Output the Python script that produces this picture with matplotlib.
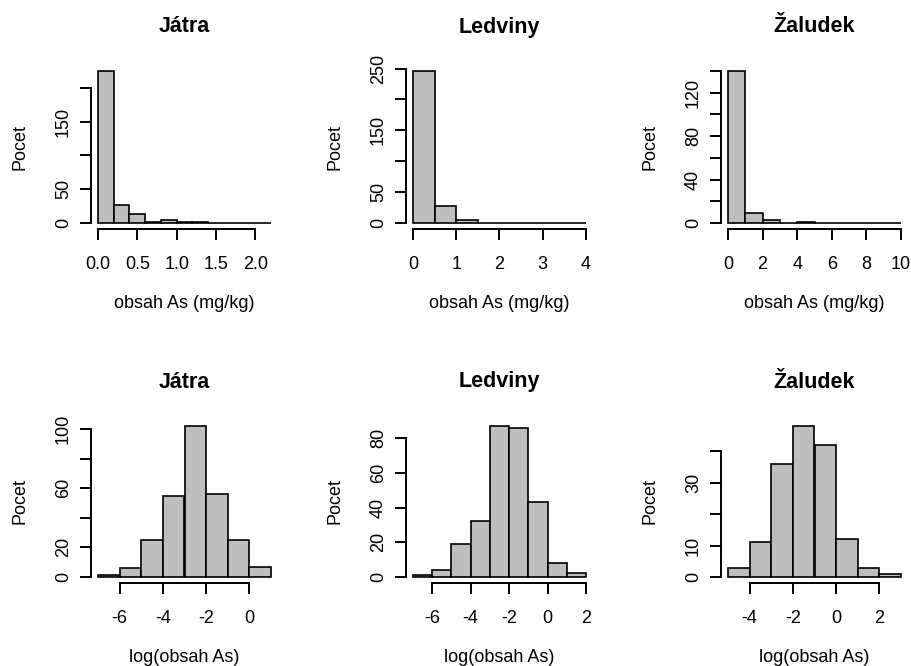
import matplotlib
matplotlib.use("Agg")
import matplotlib.pyplot as plt
from matplotlib.transforms import offset_copy
import numpy as np

plt.rcParams['font.family'] = ['Liberation Sans', 'DejaVu Sans']

# ---------------- data ----------------
titles = ["Játra", "Ledviny", "Žaludek", "Játra", "Ledviny", "Žaludek"]
xlabels = ["obsah As (mg/kg)"] * 3 + ["log(obsah As)"] * 3
ylabel = "Pocet"

# bin edges (breaks)
jatra_edges = [0.0, 0.2, 0.4, 0.6, 0.8, 1.0, 1.2, 1.4, 1.6, 1.8, 2.0, 2.2]
ledviny_edges = [0.0, 0.5, 1.0, 1.5, 2.0, 2.5, 3.0, 3.5, 4.0]
zaludek_edges = [0, 1, 2, 3, 4, 5, 6, 7, 8, 9, 10]
jatra_log_edges = [-7, -6, -5, -4, -3, -2, -1, 0, 1]
ledviny_log_edges = [-7, -6, -5, -4, -3, -2, -1, 0, 1, 2]
zaludek_log_edges = [-5, -4, -3, -2, -1, 0, 1, 2, 3]

# counts
jatra_counts = [225, 27, 13, 1, 4, 1, 1, 0, 0, 0, 0]
ledviny_counts = [246, 27, 5, 0, 0, 0, 0, 0]
zaludek_counts = [140, 9, 3, 0, 1, 0, 0, 0, 0, 0]
jatra_log_counts = [1, 6, 25, 55, 102, 56, 25, 7]
ledviny_log_counts = [1, 4, 19, 32, 87, 86, 43, 8, 2]
zaludek_log_counts = [3, 11, 36, 48, 42, 12, 3, 1]

# axis ticks and labels
x_ticks = [[0.0, 0.5, 1.0, 1.5, 2.0], [0, 1, 2, 3, 4], [0, 2, 4, 6, 8, 10],
           [-6, -4, -2, 0], [-6, -4, -2, 0, 2], [-4, -2, 0, 2]]
x_ticklabels = [["0.0", "0.5", "1.0", "1.5", "2.0"], ["0", "1", "2", "3", "4"],
                ["0", "2", "4", "6", "8", "10"], ["-6", "-4", "-2", "0"],
                ["-6", "-4", "-2", "0", "2"], ["-4", "-2", "0", "2"]]
y_ticks = [[0, 50, 100, 150, 200], [0, 50, 100, 150, 200, 250],
           [0, 20, 40, 60, 80, 100, 120, 140], [0, 20, 40, 60, 80, 100],
           [0, 20, 40, 60, 80], [0, 10, 20, 30, 40]]
y_ticklabels = [["0", "50", "", "150", ""], ["0", "50", "", "150", "", "250"],
                ["0", "", "40", "", "80", "", "120", ""], ["0", "20", "", "60", "", "100"],
                ["0", "20", "40", "60", "80"], ["0", "10", "", "30", ""]]

edges_all = [jatra_edges, ledviny_edges, zaludek_edges,
             jatra_log_edges, ledviny_log_edges, zaludek_log_edges]
counts_all = [jatra_counts, ledviny_counts, zaludek_counts,
              jatra_log_counts, ledviny_log_counts, zaludek_log_counts]

# ---------------- layout ----------------
W, H = 912, 666
fig = plt.figure(figsize=(W / 100, H / 100), dpi=100)
fig.patch.set_facecolor('white')

col_left = [91, 406, 721]
ax_w = 187
row_top = [65, 420]
ax_h = [164, 163]

for i in range(6):
    r, c = divmod(i, 3)
    left = col_left[c]
    top = row_top[r]
    h = ax_h[r]
    ax = fig.add_axes([left / W, (H - top - h) / H, ax_w / W, h / H])
    edges = np.array(edges_all[i], dtype=float)
    counts = np.array(counts_all[i], dtype=float)
    widths = np.diff(edges)
    ax.bar(edges[:-1], counts, width=widths, align='edge', color='#BEBEBE',
           edgecolor='black', linewidth=1.2, zorder=2)
    rng = edges[-1] - edges[0]
    ax.set_xlim(edges[0] - 0.04 * rng, edges[-1] + 0.04 * rng)
    ymax = counts.max()
    ax.set_ylim(-0.04 * ymax, 1.04 * ymax)

    ax.set_xticks(x_ticks[i])
    ax.set_xticklabels(x_ticklabels[i])
    ax.set_yticks(y_ticks[i])
    ax.set_yticklabels(y_ticklabels[i], rotation=90, va='center')

    for s in ['top', 'right']:
        ax.spines[s].set_visible(False)
    ax.spines['left'].set_bounds(y_ticks[i][0], y_ticks[i][-1])
    ax.spines['bottom'].set_bounds(x_ticks[i][0], x_ticks[i][-1])
    for s in ['left', 'bottom']:
        ax.spines[s].set_linewidth(1.4)
    ax.tick_params(axis='both', direction='out', length=7.7, width=1.4,
                   labelsize=13, colors='black')
    ax.tick_params(axis='x', pad=11.5)
    ax.tick_params(axis='y', pad=6)
    ax.patch.set_alpha(0)

    # title
    tt = offset_copy(ax.transAxes, fig=fig, x=0, y=38, units='dots')
    ax.text(0.5, 1.0, titles[i], transform=tt, ha='center', va='center',
            fontsize=15.5, fontweight='bold')
    # x label
    tx = offset_copy(ax.transAxes, fig=fig, x=0, y=-74, units='dots')
    ax.text(0.5, 0.0, xlabels[i], transform=tx, ha='center', va='center',
            fontsize=13)
    # y label
    ty = offset_copy(ax.transAxes, fig=fig, x=-71, y=0, units='dots')
    ax.text(0.0, 0.5, ylabel, transform=ty, ha='center', va='center',
            rotation=90, fontsize=13)

fig.savefig("out.png", dpi=100, facecolor='white')
